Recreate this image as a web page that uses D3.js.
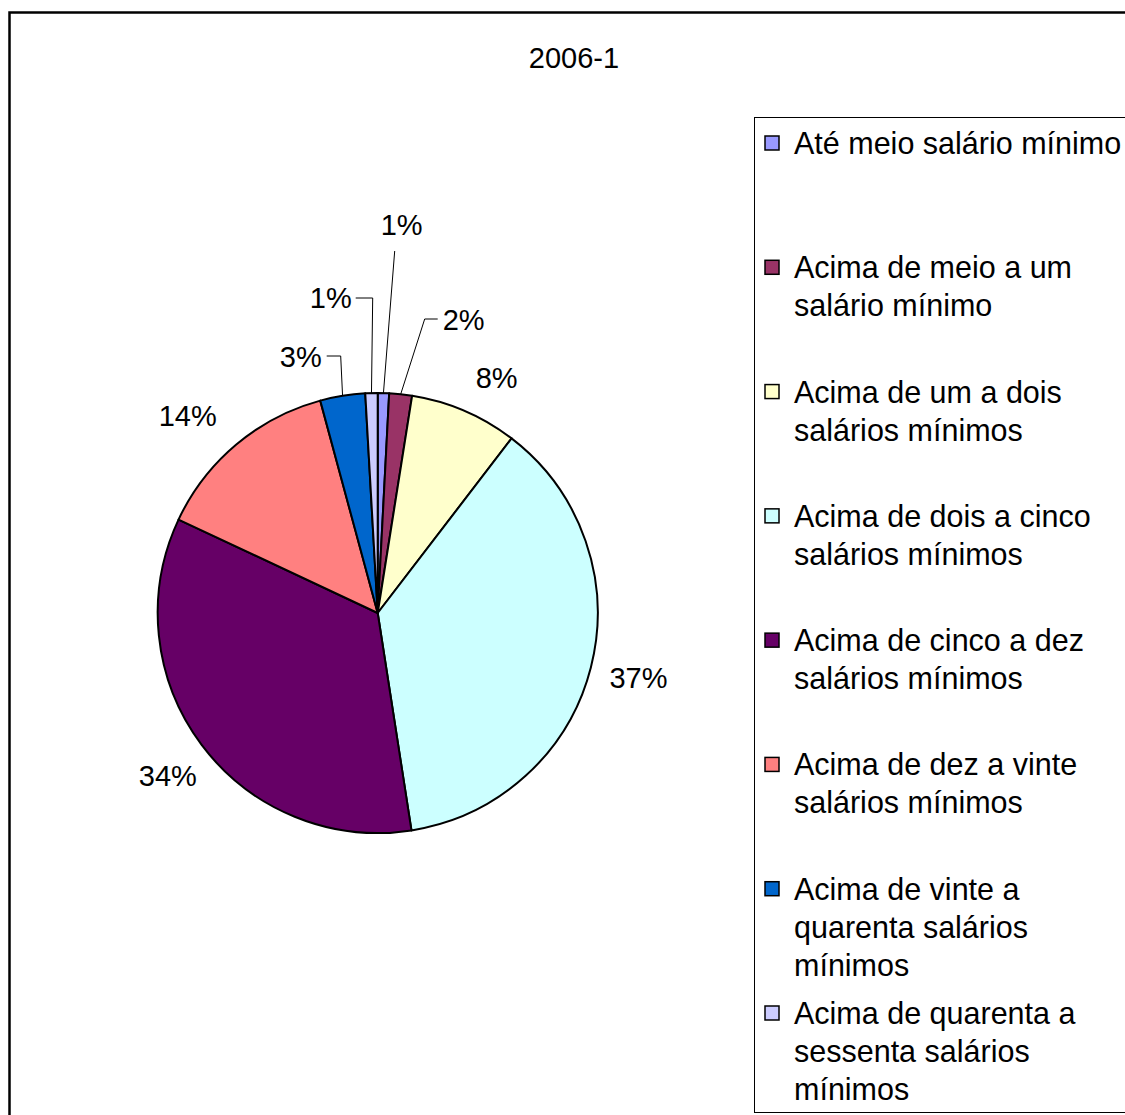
<!DOCTYPE html>
<html>
<head>
<meta charset="utf-8">
<script src="https://cdn.jsdelivr.net/npm/d3@7"></script>
<style>
  body { margin: 0; background: #fff; }
  svg { display: block; font-family: "Liberation Sans", Arial, sans-serif; }
</style>
</head>
<body>
<div id="chart"></div>
<script>
// dados (percentual por faixa de renda)
const categorias = [
  "Até meio salário mínimo",
  "Acima de meio a um salário mínimo",
  "Acima de um a dois salários mínimos",
  "Acima de dois a cinco salários mínimos",
  "Acima de cinco a dez salários mínimos",
  "Acima de dez a vinte salários mínimos",
  "Acima de vinte a quarenta salários mínimos",
  "Acima de quarenta a sessenta salários mínimos"
];
const valores = [0.83, 1.67, 7.9, 37.1, 34.4, 13.8, 3.3, 0.9];
const rotulos = ["1%", "2%", "8%", "37%", "34%", "14%", "3%", "1%"];
const cores = ["#9999FF", "#993366", "#FFFFCC", "#CCFFFF", "#660066", "#FF8080", "#0066CC", "#CCCCFF"];
const titulo = "2006-1";

const config = { width: 1125, height: 1115, cx: 377.7, cy: 613, r: 220 };

// rótulos deslocados com linha de chamada (relativos ao centro da pizza)
const chamadas = {
  0: { elbow: [17, -362], text: [24, -388], anchor: "middle" },
  1: { elbow: [47, -294], end: [60, -294], text: [65, -293], anchor: "start" },
  6: { elbow: [-37, -257], end: [-51, -257], text: [-56, -256], anchor: "end" },
  7: { elbow: [-5, -315], end: [-22, -315], text: [-26, -315], anchor: "end" }
};
// pequenos ajustes dos rótulos externos (px)
const ajustes = { 2: [14, 9], 3: [3, -1], 4: [3, 3], 5: [-19, 7] };

const svg = d3.select("#chart").append("svg")
  .attr("width", config.width)
  .attr("height", config.height);

// borda do gráfico
svg.append("rect")
  .attr("x", 9.5).attr("y", 12.5)
  .attr("width", 1130).attr("height", 1120)
  .attr("fill", "#fff")
  .attr("stroke", "#000").attr("stroke-width", 2.5);

svg.append("text")
  .attr("x", 574).attr("y", 68)
  .attr("text-anchor", "middle")
  .style("font-size", "29px")
  .text(titulo);

// pizza
const pie = d3.pie().sort(null).value(d => d)(valores);
const arc = d3.arc().innerRadius(0).outerRadius(config.r);
const arcBorda = d3.arc().innerRadius(config.r).outerRadius(config.r);
const arcRotulo = d3.arc().innerRadius(266).outerRadius(266);

const g = svg.append("g").attr("transform", `translate(${config.cx},${config.cy})`);

g.selectAll("path")
  .data(pie)
  .enter().append("path")
    .attr("d", arc)
    .attr("fill", (d, i) => cores[i])
    .attr("stroke", "#000")
    .attr("stroke-width", 2)
    .attr("stroke-linejoin", "round");

pie.forEach((d, i) => {
  const c = chamadas[i];
  if (c) {
    const p0 = arcBorda.centroid(d);
    const pts = [p0, c.elbow];
    if (c.end) pts.push(c.end);
    g.append("path")
      .attr("d", d3.line()(pts))
      .attr("fill", "none")
      .attr("stroke", "#000")
      .attr("stroke-width", 1);
    g.append("text")
      .attr("x", c.text[0]).attr("y", c.text[1])
      .attr("text-anchor", c.anchor)
      .attr("dominant-baseline", "central")
      .style("font-size", "29px")
      .text(rotulos[i]);
  } else {
    let [x, y] = arcRotulo.centroid(d);
    const a = ajustes[i] || [0, 0];
    g.append("text")
      .attr("x", x + a[0]).attr("y", y + a[1])
      .attr("text-anchor", "middle")
      .attr("dominant-baseline", "central")
      .style("font-size", "29px")
      .text(rotulos[i]);
  }
});

// legenda
svg.append("rect")
  .attr("x", 754.5).attr("y", 117.5)
  .attr("width", 400).attr("height", 995)
  .attr("fill", "#fff")
  .attr("stroke", "#000").attr("stroke-width", 1);

const yLeg = d3.scalePoint().domain(categorias).range([143, 1013]);
const lineH = 38;
const maxW = 335;
const xTxt = 794;

categorias.forEach((nome, i) => {
  const y = yLeg(nome);
  svg.append("rect")
    .attr("x", 765).attr("y", y - 7)
    .attr("width", 14).attr("height", 14)
    .attr("fill", cores[i])
    .attr("stroke", "#000").attr("stroke-width", 1.5);

  const t = svg.append("text")
    .attr("x", xTxt).attr("y", y)
    .attr("dominant-baseline", "central")
    .style("font-size", "30.5px");

  // quebra de linha pela largura
  const palavras = nome.split(" ");
  let linha = [];
  let ts = t.append("tspan").attr("x", xTxt).attr("dy", 0);
  palavras.forEach(w => {
    linha.push(w);
    ts.text(linha.join(" "));
    if (ts.node().getComputedTextLength() > maxW && linha.length > 1) {
      linha.pop();
      ts.text(linha.join(" "));
      linha = [w];
      ts = t.append("tspan").attr("x", xTxt).attr("dy", lineH).text(w);
    }
  });
});
</script>
</body>
</html>
